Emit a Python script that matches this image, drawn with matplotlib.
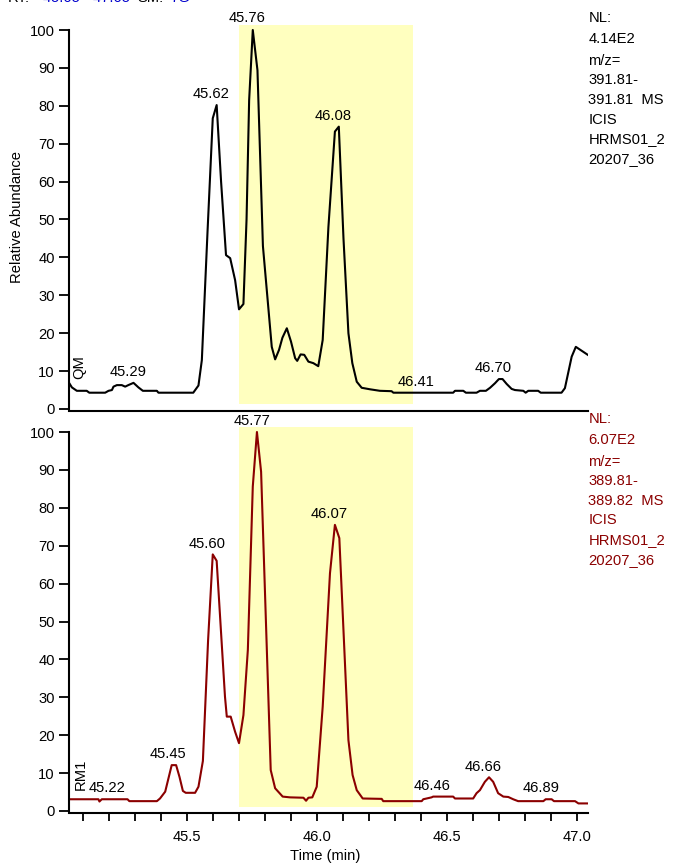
import matplotlib
matplotlib.use("Agg")
import matplotlib.pyplot as plt
import numpy as np

plt.rcParams['font.family'] = ['Liberation Sans', 'DejaVu Sans']

# ---------------- data ----------------
top_t = [45.048, 45.058, 45.077, 45.115, 45.125, 45.186, 45.199, 45.212, 45.218, 45.231,
         45.250, 45.263, 45.275, 45.295, 45.314, 45.331, 45.385, 45.391, 45.525, 45.545,
         45.558, 45.580, 45.600, 45.615, 45.632, 45.651, 45.667, 45.686, 45.701, 45.718,
         45.730, 45.740, 45.754, 45.772, 45.793, 45.827, 45.840, 45.855, 45.868, 45.885,
         45.901, 45.917, 45.925, 45.938, 45.952, 45.968, 45.987, 46.006, 46.023, 46.045,
         46.070, 46.085, 46.103, 46.122, 46.137, 46.154, 46.173, 46.205, 46.243, 46.288,
         46.295, 46.525, 46.532, 46.564, 46.574, 46.615, 46.628, 46.651, 46.667, 46.686,
         46.701, 46.715, 46.731, 46.750, 46.763, 46.795, 46.804, 46.814, 46.852, 46.862,
         46.942, 46.955, 46.981, 46.997, 47.045]
top_v = [6.8, 5.7, 4.8, 4.8, 4.3, 4.3, 4.8, 5.0, 5.9, 6.3,
         6.3, 5.9, 6.3, 6.9, 5.7, 4.8, 4.8, 4.3, 4.3, 6.2,
         12.9, 47.0, 76.7, 80.2, 60.0, 40.6, 39.8, 34.0, 26.3, 27.7,
         50.0, 81.5, 100.0, 89.4, 43.0, 16.4, 13.1, 15.6, 18.8, 21.3,
         17.8, 13.4, 12.7, 14.4, 14.3, 12.5, 12.1, 11.3, 18.2, 48.0,
         73.2, 74.5, 45.0, 20.0, 12.1, 7.2, 5.6, 5.2, 4.8, 4.7,
         4.3, 4.3, 4.8, 4.8, 4.3, 4.3, 4.8, 4.8, 5.6, 6.8,
         7.9, 7.9, 6.6, 5.3, 5.0, 4.8, 4.3, 4.8, 4.8, 4.3,
         4.3, 5.5, 13.8, 16.4, 14.2]

bot_t = [45.048, 45.160, 45.164, 45.173, 45.272, 45.279, 45.385, 45.397, 45.417, 45.442,
         45.459, 45.472, 45.485, 45.496, 45.532, 45.545, 45.562, 45.582, 45.600, 45.615,
         45.647, 45.654, 45.669, 45.686, 45.701, 45.718, 45.735, 45.754, 45.770, 45.786,
         45.823, 45.840, 45.869, 45.897, 45.949, 45.959, 45.968, 45.983, 46.000, 46.023,
         46.051, 46.070, 46.087, 46.122, 46.138, 46.154, 46.177, 46.250, 46.256, 46.404,
         46.410, 46.442, 46.448, 46.525, 46.532, 46.602, 46.615, 46.628, 46.647, 46.663,
         46.679, 46.698, 46.718, 46.737, 46.756, 46.775, 46.872, 46.881, 46.904, 46.913,
         46.994, 47.007, 47.045]
bot_v = [3.1, 3.1, 2.5, 3.1, 3.1, 2.6, 2.6, 3.3, 5.1, 12.1,
         12.1, 9.0, 5.3, 4.8, 4.8, 6.4, 13.2, 45.0, 67.7, 66.0,
         30.2, 24.9, 24.9, 20.9, 17.9, 25.3, 42.5, 85.6, 100.0, 89.5,
         10.8, 6.0, 3.8, 3.6, 3.5, 2.7, 3.5, 3.6, 6.4, 27.5,
         62.7, 75.5, 72.0, 18.7, 9.5, 5.5, 3.3, 3.2, 2.6, 2.6,
         3.1, 3.6, 3.8, 3.8, 3.3, 3.3, 4.7, 5.5, 7.7, 8.9,
         7.7, 4.7, 3.8, 3.7, 3.1, 2.6, 2.6, 3.1, 3.1, 2.6,
         2.6, 2.0, 2.0]

# peak labels: text, x (min), y (baseline, %)
top_lab_text = ["45.29", "45.62", "45.76", "46.08", "46.41", "46.70"]
top_lab_x = [45.273, 45.595, 45.733, 46.064, 46.384, 46.678]
top_lab_y = [8.8, 82.0, 102.2, 76.3, 6.1, 9.8]
bot_lab_text = ["45.22", "45.45", "45.60", "45.77", "46.07", "46.46", "46.66", "46.89"]
bot_lab_x = [45.195, 45.426, 45.578, 45.750, 46.047, 46.442, 46.641, 46.864]
bot_lab_y = [5.1, 13.9, 69.3, 101.8, 77.2, 5.5, 10.6, 5.1]

top_info = ["NL:", "4.14E2", "m/z=", "391.81-", "391.81  MS", "ICIS", "HRMS01_2", "20207_36"]
bot_info = ["NL:", "6.07E2", "m/z=", "389.81-", "389.82  MS", "ICIS", "HRMS01_2", "20207_36"]

highlight = (45.702, 46.369)
xlim = (45.048, 47.045)
ytick_vals = list(range(0, 101, 10))
xtick_major = [45.5, 46.0, 46.5, 47.0]
xtick_minor = [round(45.1 + 0.1 * i, 1) for i in range(20)]

# ---------------- figure ----------------
W, H = 674, 864
fig = plt.figure(figsize=(W / 100, H / 100), dpi=100)

left = 69.3 / W
width = (588.3 - 69.3) / W
ppu = 3.79  # pixels per % unit
ylo, yhi = -0.5, 104.0
hpx = (yhi - ylo) * ppu

ax1 = fig.add_axes([left, 1 - (409 + 0.5 * ppu) / H, width, hpx / H])
ax2 = fig.add_axes([left, 1 - (811 + 0.5 * ppu) / H, width, hpx / H])

dark_red = '#8B0000'
yellow = '#FFFFBF'
fs = 10.6

for ax, t, v, col, hb in [(ax1, top_t, top_v, 'black', (1.4, 101.3)),
                          (ax2, bot_t, bot_v, dark_red, (1.1, 101.4))]:
    ax.set_xlim(*xlim)
    ax.set_ylim(ylo, yhi)
    ax.fill_between(list(highlight), hb[0], hb[1], color=yellow, lw=0, zorder=0)
    ax.plot(t, v, color=col, lw=1.5, zorder=2)
    ax.spines['top'].set_visible(False)
    ax.spines['right'].set_visible(False)
    ax.spines['left'].set_bounds(0, 100)
    ax.spines['left'].set_linewidth(1.5)
    ax.spines['bottom'].set_linewidth(1.5)
    ax.set_yticks(ytick_vals)
    ax.tick_params(axis='y', direction='out', length=7, width=1.3, pad=3.5,
                   labelsize=fs)
    ax.patch.set_visible(False)

ax1.set_xticks([])
ax1.tick_params(axis='x', length=0)

ax2.set_xticks(xtick_major)
ax2.set_xticklabels([f"{x:.1f}" for x in xtick_major])
ax2.set_xticks(xtick_minor, minor=True)
ax2.tick_params(axis='x', which='both', direction='out', length=6, width=1.3,
                pad=6, labelsize=fs)

for txt, x, y in zip(top_lab_text, top_lab_x, top_lab_y):
    ax1.text(x, y, txt, ha='center', va='baseline', fontsize=fs, color='black',
             clip_on=False, zorder=3)
for txt, x, y in zip(bot_lab_text, bot_lab_x, bot_lab_y):
    ax2.text(x, y, txt, ha='center', va='baseline', fontsize=fs, color='black',
             clip_on=False, zorder=3)

ax1.text(45.086, 7.9, "QM", rotation=90, ha='center', va='bottom', fontsize=fs,
         color='black')
ax2.text(45.093, 5.5, "RM1", rotation=90, ha='center', va='bottom', fontsize=fs,
         color='black')

# right-side info blocks
base_top = [21.7, 43.3, 65.0, 84.0, 104.0, 123.5, 143.5, 163.0]
for line, b in zip(top_info, base_top):
    fig.text(588.3 / W, 1 - b / H, line, ha='left', va='baseline', fontsize=fs,
             color='black')
for line, b in zip(bot_info, base_top):
    fig.text(588.3 / W, 1 - (b + 401.0) / H, line, ha='left', va='baseline',
             fontsize=fs, color=dark_red)

# axis titles
fig.text(17 / W, 1 - 217 / H, "Relative Abundance", rotation=90, ha='center',
         va='center', fontsize=fs)
fig.text(325 / W, 1 - 856 / H, "Time (min)", ha='center', va='center', fontsize=fs)

# header (cut off at the top edge in the original)
hb = 1 - 2.0 / H
fig.text(8 / W, hb, "RT:", ha='left', va='baseline', fontsize=fs, color='black')
fig.text(43 / W, hb, "45.05 - 47.05", ha='left', va='baseline', fontsize=fs, color='#0000CC')
fig.text(137 / W, hb, "SM:", ha='left', va='baseline', fontsize=fs, color='black')
fig.text(170 / W, hb, "7G", ha='left', va='baseline', fontsize=fs, color='#0000CC')

fig.savefig("out.png", dpi=100)
